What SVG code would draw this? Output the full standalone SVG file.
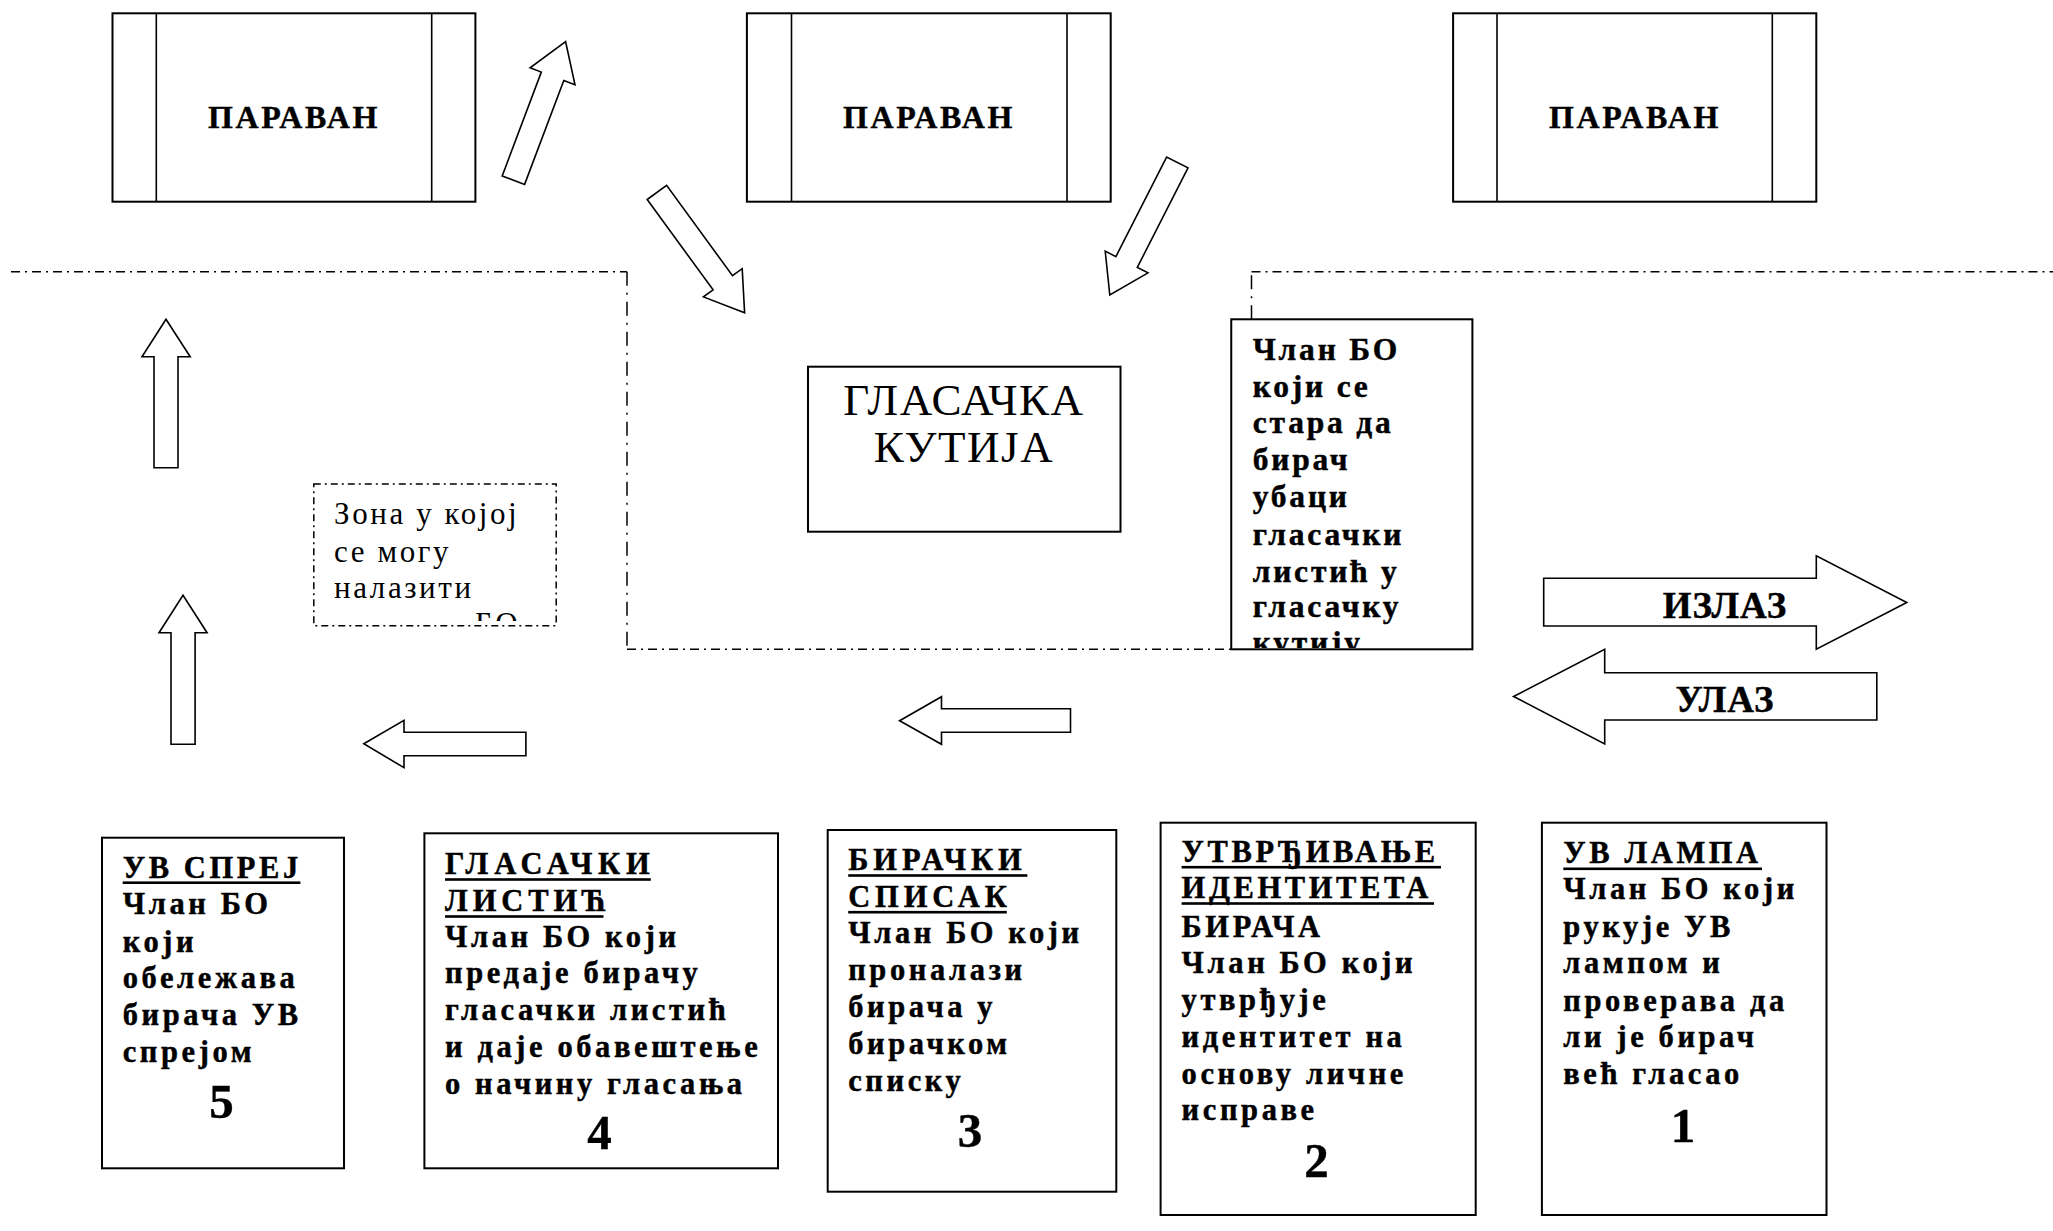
<svg xmlns="http://www.w3.org/2000/svg" width="2053" height="1231" viewBox="0 0 2053 1231">
<style>
.bx{fill:#fff;stroke:#000;stroke-width:2}
.ln{stroke:#000;stroke-width:1.6}
.ar{fill:#fff;stroke:#000;stroke-width:1.6;stroke-linejoin:miter}
.dd{fill:none;stroke:#000;stroke-width:1.5;stroke-dasharray:9 5 2 5}
.ddv{fill:none;stroke:#000;stroke-width:1.5;stroke-dasharray:14 7 2 7}
.t{font-family:'Liberation Serif','Times New Roman',serif;fill:#000}
.b{font-weight:bold;font-size:30.5px;letter-spacing:3.6px;stroke:#000;stroke-width:0.45}
.bm{font-weight:bold;font-size:31.5px;letter-spacing:2.8px;stroke:#000;stroke-width:0.45}
.par{font-weight:bold;font-size:32px;letter-spacing:2.6px;text-anchor:middle;stroke:#000;stroke-width:0.4}
.num{font-weight:bold;font-size:49px;text-anchor:middle;stroke:#000;stroke-width:0.4}
.ex{font-weight:bold;font-size:37px;letter-spacing:1px;text-anchor:middle;stroke:#000;stroke-width:0.4}
.ul{fill:#000}
</style>
<defs>
<clipPath id="cpMember"><rect x="1231" y="319" width="242" height="329"/></clipPath>
<clipPath id="cpZone"><rect x="314" y="484" width="242" height="137"/></clipPath>
</defs>

<g id="paravan-1">
<rect class="bx" x="112.5" y="13.3" width="362.9" height="188.4"/>
<line class="ln" x1="156.3" y1="13.3" x2="156.3" y2="201.7"/>
<line class="ln" x1="431.7" y1="13.3" x2="431.7" y2="201.7"/>
<text class="t par" x="294" y="127.7">ПАРАВАН</text>
</g>
<g id="paravan-2">
<rect class="bx" x="746.9" y="13.3" width="363.8" height="188.4"/>
<line class="ln" x1="791.5" y1="13.3" x2="791.5" y2="201.7"/>
<line class="ln" x1="1067" y1="13.3" x2="1067" y2="201.7"/>
<text class="t par" x="929" y="127.7">ПАРАВАН</text>
</g>
<g id="paravan-3">
<rect class="bx" x="1453.1" y="13.3" width="363.2" height="188.4"/>
<line class="ln" x1="1497" y1="13.3" x2="1497" y2="201.7"/>
<line class="ln" x1="1772.3" y1="13.3" x2="1772.3" y2="201.7"/>
<text class="t par" x="1635" y="127.7">ПАРАВАН</text>
</g>

<g id="zone-lines">
<path class="dd" d="M11,271.7 H627"/>
<path class="ddv" d="M627,271.7 V649.3"/>
<path class="dd" d="M627,649.3 H1231"/>
<path class="ddv" d="M1251.5,319.3 V271.7"/>
<path class="dd" d="M1251.5,271.7 H2053"/>
</g>

<g id="ballot-box">
<rect class="bx" x="808" y="366.7" width="312.5" height="165"/>
<text class="t" x="964" y="415" font-size="45" letter-spacing="1.6" text-anchor="middle">ГЛАСАЧКА</text>
<text class="t" x="964" y="461.7" font-size="45" letter-spacing="1.6" text-anchor="middle">КУТИЈА</text>
</g>

<g id="zone-note">
<rect x="313.8" y="484" width="242.4" height="141.7" fill="#fff" stroke="#000" stroke-width="1.5" stroke-dasharray="7 4 2 4"/>
<g clip-path="url(#cpZone)">
<text class="t" font-size="31" letter-spacing="2.6">
<tspan x="334" y="524">Зона у којој</tspan>
<tspan x="334" y="561.7">се могу</tspan>
<tspan x="334" y="597.7">налазити</tspan>
<tspan x="475" y="634.4">БО</tspan>
</text>
</g>
</g>

<g id="member-box">
<rect class="bx" x="1231.25" y="319.3" width="241.15" height="330"/>
<g clip-path="url(#cpMember)">
<text class="t bm">
<tspan x="1252.7" y="360">Члан БО</tspan>
<tspan x="1252.7" y="396.7">који се</tspan>
<tspan x="1252.7" y="433.3">стара да</tspan>
<tspan x="1252.7" y="470">бирач</tspan>
<tspan x="1252.7" y="506.7">убаци</tspan>
<tspan x="1252.7" y="545">гласачки</tspan>
<tspan x="1252.7" y="581.7">листић у</tspan>
<tspan x="1252.7" y="616.7">гласачку</tspan>
<tspan x="1252.7" y="653.4">кутију</tspan>
</text>
</g>
</g>

<g id="step-5">
<rect class="bx" x="102" y="837.7" width="242" height="330.6"/>
<text class="t b">
<tspan x="122.7" y="878">УВ СПРЕЈ</tspan>
<tspan x="122.7" y="914.3">Члан БО</tspan>
<tspan x="122.7" y="951.7">који</tspan>
<tspan x="122.7" y="988.3">обележава</tspan>
<tspan x="122.7" y="1025">бирача УВ</tspan>
<tspan x="122.7" y="1061.7">спрејом</tspan>
</text>
<rect class="ul" x="122.7" y="881.4" width="177.7" height="2.6"/>
<text class="t num" x="221.5" y="1118.3">5</text>
</g>

<g id="step-4">
<rect class="bx" x="424.4" y="833.3" width="353.6" height="335"/>
<text class="t b">
<tspan x="445" y="874" letter-spacing="5.8">ГЛАСАЧКИ</tspan>
<tspan x="445" y="911" letter-spacing="4.9">ЛИСТИЋ</tspan>
<tspan x="445" y="946.7">Члан БО који</tspan>
<tspan x="445" y="983.3">предаје бирачу</tspan>
<tspan x="445" y="1020">гласачки листић</tspan>
<tspan x="445" y="1057.3">и даје обавештење</tspan>
<tspan x="445" y="1094">о начину гласања</tspan>
</text>
<rect class="ul" x="445" y="878.2" width="205.8" height="2.6"/>
<rect class="ul" x="445" y="915.2" width="158.5" height="2.6"/>
<text class="t num" x="599.4" y="1149.3">4</text>
</g>

<g id="step-3">
<rect class="bx" x="827.7" y="830" width="288.6" height="361.7"/>
<text class="t b">
<tspan x="848.2" y="870" letter-spacing="4.9">БИРАЧКИ</tspan>
<tspan x="848.2" y="906.7" letter-spacing="4.9">СПИСАК</tspan>
<tspan x="848.2" y="943.3">Члан БО који</tspan>
<tspan x="848.2" y="980">проналази</tspan>
<tspan x="848.2" y="1016.7">бирача у</tspan>
<tspan x="848.2" y="1054">бирачком</tspan>
<tspan x="848.2" y="1090.7">списку</tspan>
</text>
<rect class="ul" x="848.2" y="874.2" width="179.2" height="2.6"/>
<rect class="ul" x="848.2" y="910.9" width="158.6" height="2.6"/>
<text class="t num" x="970" y="1146.7">3</text>
</g>

<g id="step-2">
<rect class="bx" x="1160.6" y="822.7" width="315.1" height="392.3"/>
<text class="t b">
<tspan x="1181.6" y="861.7">УТВРЂИВАЊЕ</tspan>
<tspan x="1181.6" y="898.3">ИДЕНТИТЕТА</tspan>
<tspan x="1181.6" y="936.7">БИРАЧА</tspan>
<tspan x="1181.6" y="973.3">Члан БО који</tspan>
<tspan x="1181.6" y="1010">утврђује</tspan>
<tspan x="1181.6" y="1047.3">идентитет на</tspan>
<tspan x="1181.6" y="1084">основу личне</tspan>
<tspan x="1181.6" y="1120">исправе</tspan>
</text>
<rect class="ul" x="1181.6" y="865.9" width="259.4" height="2.6"/>
<rect class="ul" x="1181.6" y="902.2" width="252.4" height="2.6"/>
<text class="t num" x="1316.6" y="1176.7">2</text>
</g>

<g id="step-1">
<rect class="bx" x="1541.9" y="822.7" width="284.6" height="392.3"/>
<text class="t b">
<tspan x="1563.3" y="863.3">УВ ЛАМПА</tspan>
<tspan x="1563.3" y="899.3">Члан БО који</tspan>
<tspan x="1563.3" y="936.7">рукује УВ</tspan>
<tspan x="1563.3" y="973.3">лампом и</tspan>
<tspan x="1563.3" y="1010.7">проверава да</tspan>
<tspan x="1563.3" y="1047.3">ли је бирач</tspan>
<tspan x="1563.3" y="1084">већ гласао</tspan>
</text>
<rect class="ul" x="1563.3" y="867.5" width="198.7" height="2.6"/>
<text class="t num" x="1683" y="1141.7">1</text>
</g>

<g id="connectors">
<polygon class="ar" points="502.2,176 541.3,72.1 530.1,67.8 565.6,41.7 575,84.8 563.8,80.5 524.6,184.4"/>
<polygon class="ar" points="647.2,199.5 713.1,289.9 703.4,296.9 744.6,312.7 742.2,268.7 732.5,275.7 666.6,185.3"/>
<polygon class="ar" points="1166.6,157.1 1115.9,256.6 1105.2,251.1 1109.8,295 1148,272.9 1137.3,267.4 1188,167.9"/>
<polygon class="ar" points="166,319.3 190.2,356.7 178,356.7 178,467.7 154,467.7 154,356.7 142,356.7"/>
<polygon class="ar" points="183,595.3 207.1,632.7 195.1,632.7 195.1,744.3 171,744.3 171,632.7 159,632.7"/>
<polygon class="ar" points="363.8,743.7 404,720.3 404,732.3 525.9,732.3 525.9,755.7 404,755.7 404,767.7"/>
<polygon class="ar" points="899.6,720.7 941.5,696.7 941.5,708.7 1070.5,708.7 1070.5,732.3 941.5,732.3 941.5,744.3"/>
<g id="exit">
<polygon class="ar" points="1543.7,578.3 1816.3,578.3 1816.3,555.7 1906.8,602.5 1816.3,649.3 1816.3,626 1543.7,626"/>
<text class="t ex" x="1725" y="617.7">ИЗЛАЗ</text>
</g>
<g id="entrance">
<polygon class="ar" points="1513.6,696.5 1604.7,649.3 1604.7,672.7 1876.8,672.7 1876.8,720 1604.7,720 1604.7,744"/>
<text class="t ex" x="1725" y="712.3">УЛАЗ</text>
</g>
</g>
</svg>
